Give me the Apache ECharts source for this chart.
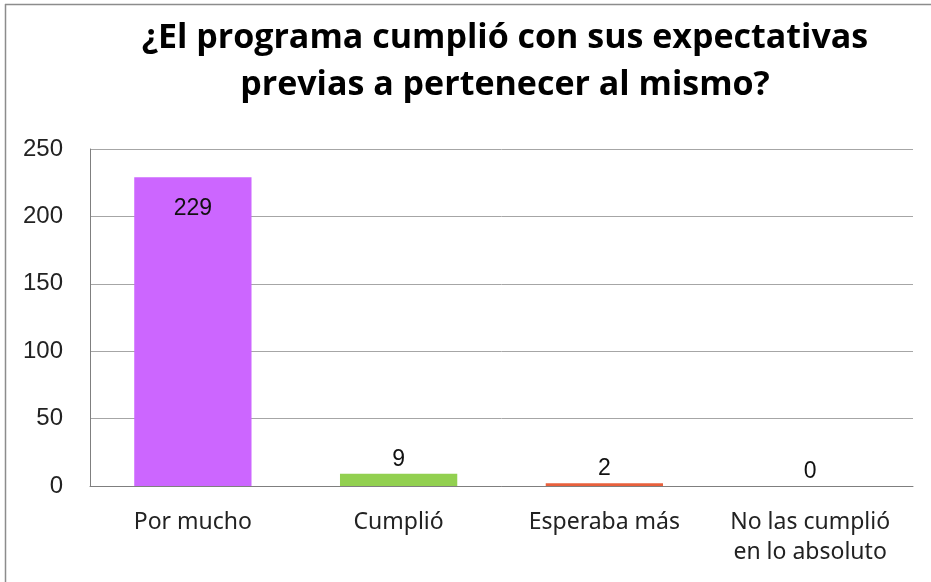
<!DOCTYPE html>
<html>
<head>
    <meta charset="utf-8">
    <title>Expectativas del programa</title>
    <script src="https://cdn.jsdelivr.net/npm/echarts@6/dist/echarts.min.js"></script>
    <style>
        html, body { margin: 0; padding: 0; background: #fff; }
        #chart { width: 931px; height: 582px; }
    </style>
</head>
<body>
<div id="chart"></div>
<script type="text/javascript">
    // datos
    var categorias = ['Por mucho', 'Cumplió', 'Esperaba más', 'No las cumplió\nen lo absoluto'];
    var valores = [229, 9, 2, 0];
    var colores = ['#CC66FF', '#92D050', '#E8603C', '#5B9BD5'];

    var myChart = echarts.init(document.getElementById('chart'));

    var datos = valores.map(function (v, i) {
        var item = { value: v, itemStyle: { color: colores[i] } };
        if (i === 0) {
            // la primera etiqueta va dentro de la barra
            item.label = { position: 'insideTop', distance: 20 };
        }
        return item;
    });

    myChart.setOption({
        animation: false,
        title: {
            text: '¿El programa cumplió con sus expectativas\nprevias a pertenecer al mismo?',
            left: 500,
            textAlign: 'center',
            top: 10,
            textStyle: {
                fontFamily: 'Open Sans',
                fontWeight: 'bold',
                fontSize: 34,
                lineHeight: 47,
                color: '#000'
            }
        },
        graphic: [
            { type: 'line', shape: { x1: 5, y1: 4.5, x2: 931, y2: 4.5 }, style: { stroke: '#8c8c8c', lineWidth: 1.5 } },
            { type: 'line', shape: { x1: 5.5, y1: 4, x2: 5.5, y2: 582 }, style: { stroke: '#8c8c8c', lineWidth: 1.5 } }
        ],
        grid: {
            left: 90,
            right: 18,
            top: 149,
            bottom: 96
        },
        xAxis: {
            type: 'category',
            data: categorias,
            axisLine: { lineStyle: { color: '#7f7f7f', width: 1 } },
            axisTick: { show: false },
            axisLabel: {
                color: '#222',
                fontFamily: 'Noto Sans',
                fontSize: 23,
                lineHeight: 30,
                margin: 21,
                interval: 0
            }
        },
        yAxis: {
            type: 'value',
            min: 0,
            max: 250,
            interval: 50,
            axisLine: { show: true, lineStyle: { color: '#7f7f7f', width: 1 } },
            splitLine: { lineStyle: { color: '#a6a6a6', width: 1 } },
            axisLabel: {
                color: '#222',
                fontFamily: 'Liberation Sans',
                fontSize: 24,
                margin: 27
            }
        },
        series: [{
            type: 'bar',
            data: datos,
            barWidth: '57%',
            label: {
                show: true,
                position: 'top',
                distance: 3,
                color: '#111',
                fontFamily: 'Liberation Sans',
                fontSize: 23
            }
        }]
    });
</script>
</body>
</html>
